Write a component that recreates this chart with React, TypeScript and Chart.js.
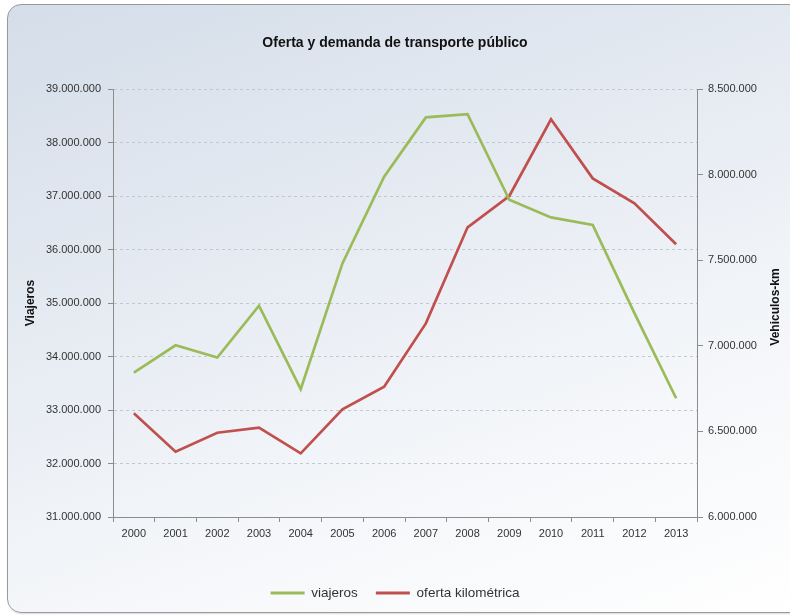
import React, { useEffect, useRef } from "react";
import { Chart, registerables } from "chart.js";

Chart.register(...registerables);

const years = ["2000", "2001", "2002", "2003", "2004", "2005", "2006", "2007", "2008", "2009", "2010", "2011", "2012", "2013"];
const viajeros = [33700000, 34210000, 33980000, 34950000, 33390000, 35740000, 37360000, 38470000, 38530000, 36930000, 36600000, 36460000, 34810000, 33220000];
const ofertaKm = [6606000, 6381000, 6492000, 6522000, 6372000, 6629000, 6761000, 7131000, 7692000, 7875000, 8323000, 7978000, 7832000, 7593000];

const chartTitle = "Oferta y demanda de transporte público";
const leftAxisTitle = "Viajeros";
const rightAxisTitle = "Vehiculos-km";
const seriesNames = ["viajeros", "oferta kilométrica"];

const FONT = "'Liberation Sans', Arial, sans-serif";

function fmt(v: number): string {
  return Math.round(v).toString().replace(/\B(?=(\d{3})+(?!\d))/g, ".");
}

const axisTitles = {
  id: "axisTitles",
  afterDraw(chart: any) {
    const ctx = chart.ctx;
    const area = chart.chartArea;
    const cy = (area.top + area.bottom) / 2;
    ctx.save();
    ctx.fillStyle = "#111";
    ctx.font = `bold 12px ${FONT}`;
    ctx.textAlign = "center";
    ctx.textBaseline = "middle";
    ctx.translate(31, cy);
    ctx.rotate(-Math.PI / 2);
    ctx.fillText(leftAxisTitle, 0, 0);
    ctx.restore();
    ctx.save();
    ctx.fillStyle = "#111";
    ctx.font = `bold 12px ${FONT}`;
    ctx.textAlign = "center";
    ctx.textBaseline = "middle";
    ctx.translate(776, cy + 4);
    ctx.rotate(-Math.PI / 2);
    ctx.fillText(rightAxisTitle, 0, 0);
    ctx.restore();
  },
};

export default function App() {
  const ref = useRef<HTMLCanvasElement | null>(null);

  useEffect(() => {
    if (!ref.current) return;
    Chart.defaults.font.family = FONT;
    const defGen = (Chart.defaults.plugins.legend.labels as any).generateLabels;
    const chart = new Chart(ref.current, {
      type: "line",
      data: {
        labels: years,
        datasets: [
          {
            label: seriesNames[0],
            data: viajeros,
            yAxisID: "y",
            borderColor: "#9bbb59",
            backgroundColor: "#9bbb59",
            borderWidth: 2.7,
            pointRadius: 0,
            tension: 0,
          },
          {
            label: seriesNames[1],
            data: ofertaKm,
            yAxisID: "y2",
            borderColor: "#c0504d",
            backgroundColor: "#c0504d",
            borderWidth: 2.7,
            pointRadius: 0,
            tension: 0,
          },
        ],
      },
      options: {
        responsive: false,
        animation: false,
        devicePixelRatio: 1,
        layout: { padding: { left: 0, right: 0, top: 0, bottom: 5.25 } },
        plugins: {
          tooltip: { enabled: false },
          title: {
            display: true,
            text: chartTitle,
            color: "#111",
            font: { size: 14, weight: "bold", family: FONT },
            padding: { top: 34.6, bottom: 37.6 },
          },
          legend: {
            position: "bottom",
            labels: {
              boxWidth: 34,
              boxHeight: 3,
              padding: 18,
              color: "#333",
              font: { size: 13.5, family: FONT },
              generateLabels: (c: any) =>
                defGen(c).map((l: any) => ({ ...l, lineWidth: 0 })),
            },
          },
        },
        scales: {
          x: {
            offset: true,
            grid: {
              offset: true,
              drawOnChartArea: false,
              tickLength: 5,
              color: "#8c8c8c",
            },
            border: { color: "#8c8c8c", width: 1 },
            ticks: { color: "#333", font: { size: 11 }, padding: 5, maxRotation: 0 },
            afterFit: (s: any) => {
              s.height = 51.25;
            },
          },
          y: {
            position: "left",
            min: 31000000,
            max: 39000000,
            ticks: {
              stepSize: 1000000,
              color: "#333",
              font: { size: 11 },
              padding: 7,
              callback: (v: any) => fmt(Number(v)),
            },
            grid: {
              color: "#c3c8ce",
              tickColor: "#8c8c8c",
              tickLength: 5,
              tickBorderDash: [],
            },
            border: { color: "#8c8c8c", width: 1, dash: [3, 3] },
            afterFit: (s: any) => {
              s.width = 113;
            },
          },
          y2: {
            position: "right",
            min: 6000000,
            max: 8500000,
            ticks: {
              stepSize: 500000,
              color: "#333",
              font: { size: 11 },
              padding: 5,
              callback: (v: any) => fmt(Number(v)),
            },
            grid: {
              drawOnChartArea: false,
              color: "#8c8c8c",
              tickLength: 6,
            },
            border: { color: "#8c8c8c", width: 1 },
            afterFit: (s: any) => {
              s.width = 93;
            },
          },
        },
      },
      plugins: [axisTitles],
    } as any);
    return () => chart.destroy();
  }, []);

  return (
    <div style={{ position: "absolute", left: 0, top: 0, width: 790, height: 615, overflow: "hidden" }}>
      <div
        style={{
          position: "absolute",
          left: 7,
          top: 4,
          width: 810,
          height: 607,
          borderRadius: 14,
          border: "1.5px solid #9a9a9a",
          background: "linear-gradient(160deg, #d4dde9 0%, #e7ecf3 40%, #f5f7fa 70%, #ffffff 100%)",
          boxShadow: "1px 1px 2px rgba(0,0,0,0.15)",
        }}
      />
      <canvas
        ref={ref}
        width={790}
        height={615}
        style={{ position: "absolute", left: 0, top: 0, width: 790, height: 615 }}
      />
    </div>
  );
}
